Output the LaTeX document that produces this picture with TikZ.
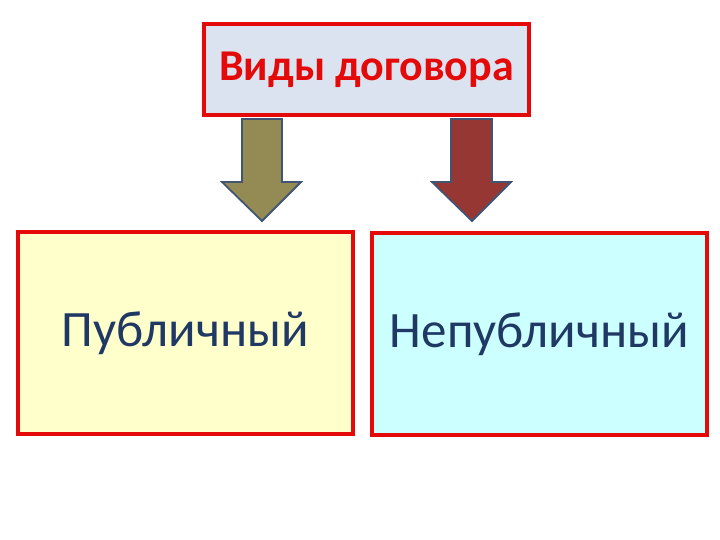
\documentclass[tikz,border=0pt]{standalone}
\usepackage{fontspec}
\setmainfont{Carlito}
\definecolor{boxred}{RGB}{228,10,10}
\definecolor{topfill}{RGB}{220,227,240}
\definecolor{yelfill}{RGB}{255,255,204}
\definecolor{cyanfill}{RGB}{204,255,255}
\definecolor{olivearrow}{RGB}{148,138,84}
\definecolor{redarrow}{RGB}{150,55,52}
\definecolor{arrowedge}{RGB}{65,85,115}
\definecolor{textblue}{RGB}{31,56,100}
\tikzset{
  redbox/.style={draw=boxred, line width=4.5pt, inner sep=0pt},
  blockarrow/.style={draw=arrowedge, line width=1.8pt, line join=miter}
}
\begin{document}
\begin{tikzpicture}[x=1pt,y=-1pt]
\useasboundingbox (0,0) rectangle (720,540);
\node[redbox, fill=topfill, minimum width=325pt, minimum height=91pt,
      font=\fontsize{44}{50}\selectfont\bfseries, text=boxred] (top) at (366.5,69.5) {Виды договора};
\node[redbox, fill=yelfill, minimum width=335pt, minimum height=202pt,
      font=\fontsize{51}{58}\selectfont, text=textblue] (pub) at (185.5,333) {Публичный};
\node[redbox, fill=cyanfill, minimum width=335pt, minimum height=202pt,
      font=\fontsize{51}{58}\selectfont, text=textblue] (npub) at (539.5,334) {Непубличный};
\draw[blockarrow, fill=olivearrow] (242,119) -- (282,119) -- (282,182) -- (301,182) -- (262,221) -- (222,182) -- (242,182) -- cycle;
\draw[blockarrow, fill=redarrow] (451,119) -- (492,119) -- (492,182) -- (511,182) -- (472,221) -- (432,182) -- (451,182) -- cycle;
\end{tikzpicture}
\end{document}
